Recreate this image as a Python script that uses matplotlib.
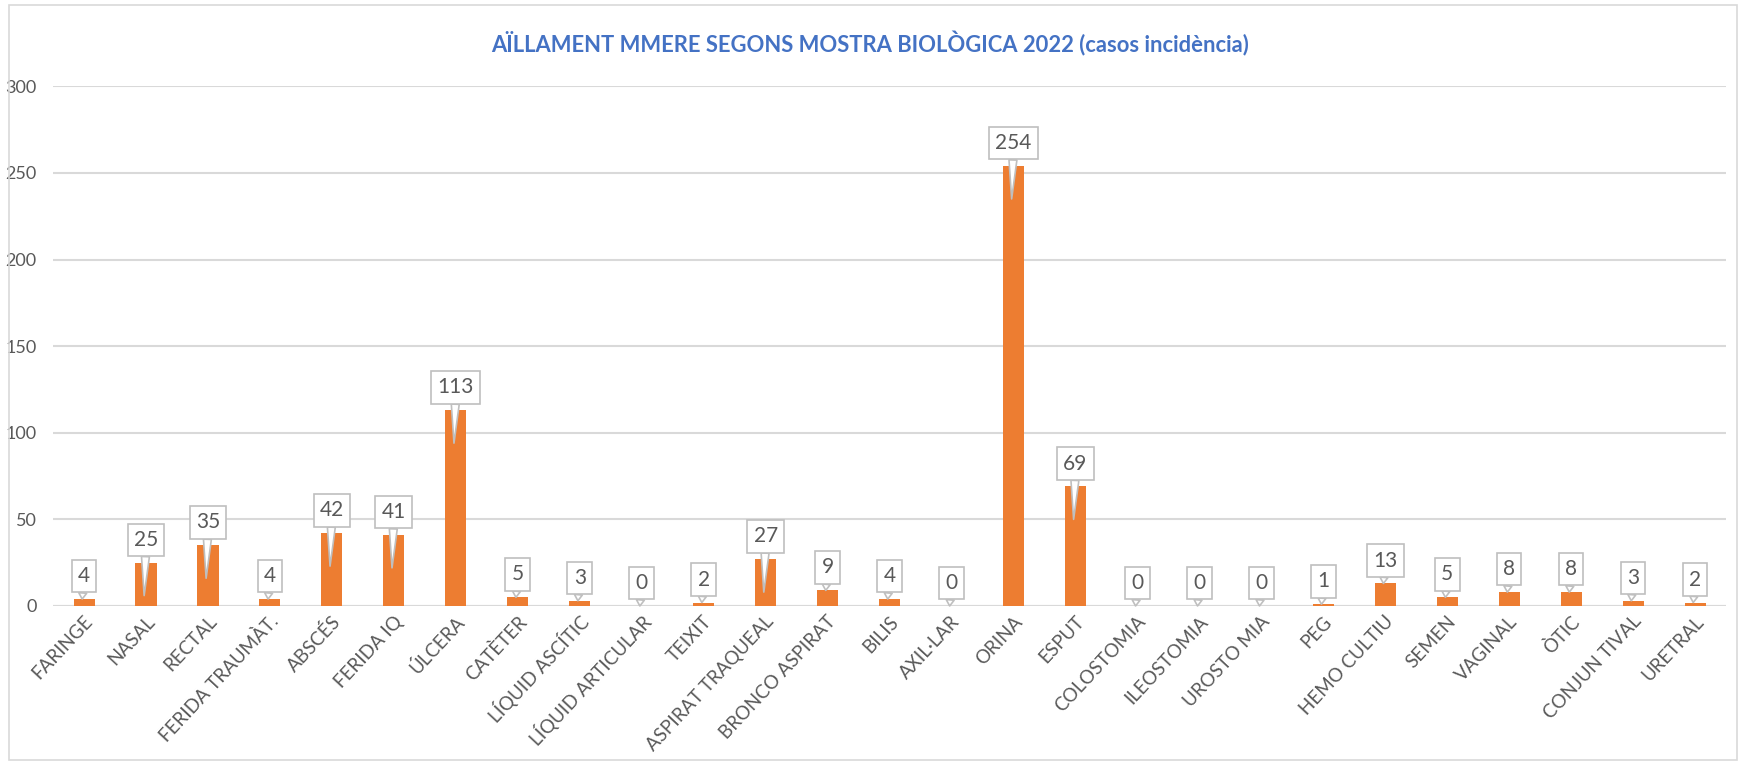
import matplotlib.pyplot as plt
from matplotlib.patches import Rectangle
from matplotlib.transforms import offset_copy, ScaledTranslation

# --- Data ---
categories = ["FARINGE", "NASAL", "RECTAL", "FERIDA TRAUMÀT.", "ABSCÉS", "FERIDA IQ",
              "ÚLCERA", "CATÈTER", "LÍQUID ASCÍTIC", "LÍQUID ARTICULAR", "TEIXIT",
              "ASPIRAT TRAQUEAL", "BRONCO ASPIRAT", "BILIS", "AXIL·LAR", "ORINA",
              "ESPUT", "COLOSTOMIA", "ILEOSTOMIA", "UROSTO MIA", "PEG", "HEMO CULTIU",
              "SEMEN", "VAGINAL", "ÒTIC", "CONJUN TIVAL", "URETRAL"]
values = [4, 25, 35, 4, 42, 41, 113, 5, 3, 0, 2, 27, 9, 4, 0, 254, 69, 0, 0, 0, 1,
          13, 5, 8, 8, 3, 2]
yticks = [0, 50, 100, 150, 200, 250, 300]

title = "AÏLLAMENT MMERE SEGONS MOSTRA BIOLÒGICA 2022 (casos incidència)"

# --- Style ---
plt.rcParams['font.family'] = ['Lato', 'DejaVu Sans']
BAR = "#ED7D31"
TXT = "#595959"
GRID = "#D9D9D9"
BOX = "#BFBFBF"

fig = plt.figure(figsize=(17.4, 7.63), dpi=100)
ax = fig.add_axes([0.0305, 0.2058, 0.9615, 0.681])

x = list(range(len(categories)))
ax.bar(x, values, width=0.34, color=BAR, zorder=2)

ax.set_xlim(-0.5, len(categories) - 0.5)
ax.set_ylim(0, 300)
ax.set_yticks(yticks)
ax.yaxis.grid(True, color=GRID, linewidth=1.5, zorder=0)
ax.set_axisbelow(True)
for s in ax.spines.values():
    s.set_visible(False)
ax.axhline(0, color=GRID, linewidth=1.5, zorder=1)

ax.tick_params(axis='y', length=0, pad=12, labelsize=13, labelcolor=TXT)
ax.tick_params(axis='x', length=0, pad=9)
ax.set_xticks(x)
ax.set_xticklabels(categories, fontsize=13.5, color=TXT)
shift = ScaledTranslation(4 / 72, 0, fig.dpi_scale_trans)
for lab in ax.get_xticklabels():
    lab.set_rotation(47)
    lab.set_ha('right')
    lab.set_va('center')
    lab.set_rotation_mode('anchor')
    lab.set_transform(lab.get_transform() + shift)

# --- Callout data labels (box sits a fixed distance above the bar top) ---
box_pos = offset_copy(ax.transData, fig=fig, y=16.5, units='points')
for xi, v in zip(x, values):
    tip = v - 19 if v >= 25 else v
    ax.annotate(str(v), xy=(xi - 0.03, tip), xytext=(xi, v),
                textcoords=box_pos, fontsize=15, color=TXT,
                ha='center', va='center', annotation_clip=False,
                bbox=dict(boxstyle='square,pad=0.3', fc='white', ec=BOX, lw=1.2),
                arrowprops=dict(arrowstyle='wedge,tail_width=0.38,shrink_factor=0.5',
                                fc='white', ec=BOX, lw=1.2, shrinkA=0, shrinkB=0),
                zorder=3)

fig.text(0.5, 0.942, title, ha='center', va='center', fontsize=15.8,
         fontweight='bold', color="#4472C4")

fig.patches.append(Rectangle((0.005, 0.004), 0.993, 0.99, transform=fig.transFigure,
                             fill=False, ec=GRID, lw=1.2))

fig.savefig("out.png", dpi=100)
